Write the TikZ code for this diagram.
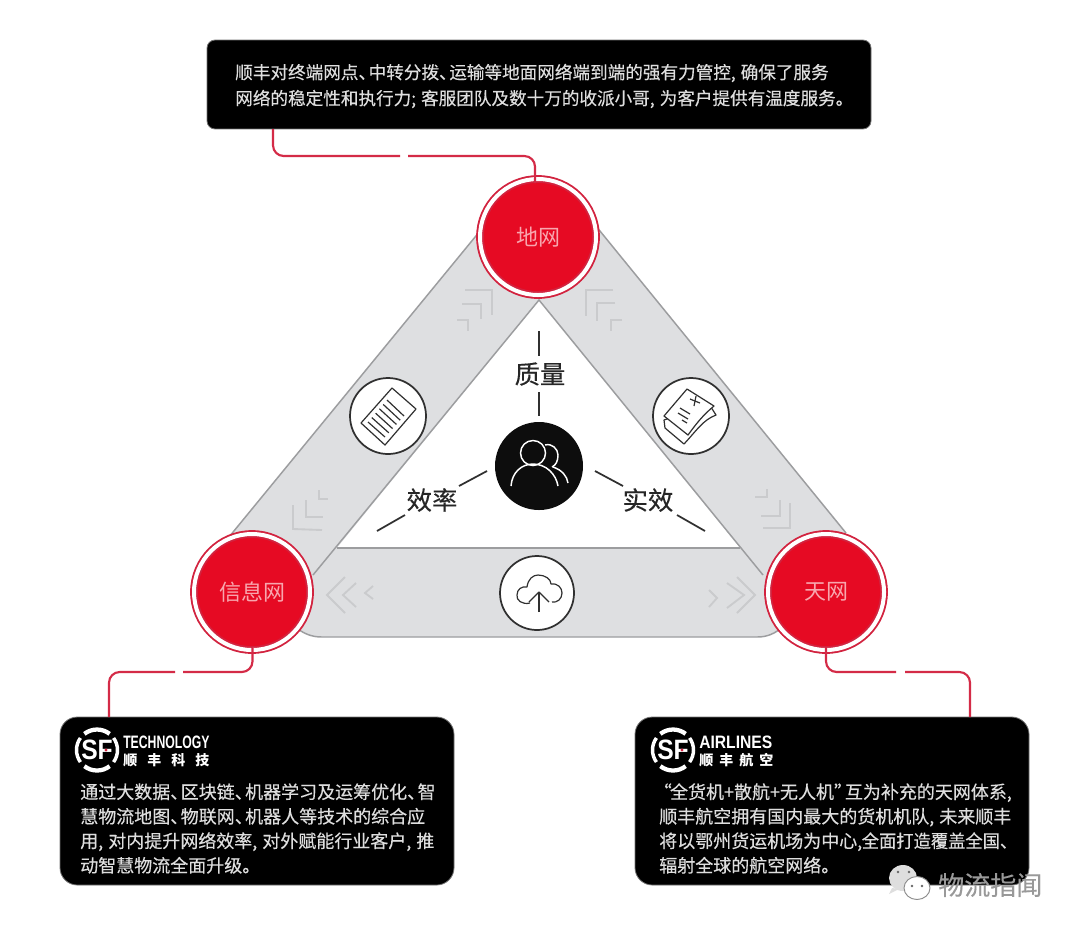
\documentclass[tikz,border=0pt]{standalone}
\usepackage{fontspec}
\usepackage{graphicx}
\setmainfont{Noto Sans CJK SC}
\newfontfamily\latinb{Liberation Sans}
\newfontfamily\heavycn[FakeBold=0.3]{Noto Sans CJK SC}
\definecolor{bandgray}{HTML}{DEDFE1}
\definecolor{edgegray}{HTML}{9C9D9F}
\definecolor{chevgray}{HTML}{CACBCD}
\definecolor{sfred}{HTML}{E60A23}
\definecolor{ringred}{HTML}{D2233F}
\definecolor{linkred}{HTML}{D42B47}
\definecolor{softpink}{HTML}{F8A6AE}
\definecolor{bodygray}{HTML}{DEDEDE}
\definecolor{inkline}{HTML}{303030}
\newcommand\pdun{、\kern-.42em}
\newcommand\pcom{,\kern.28em}
\newcommand\ptight{,\kern.05em}
\newcommand\pfen{;\kern.28em}
\tikzset{
  x=0.75pt,y=-0.75pt,
  blackbox/.style={fill=black,draw=#1,line width=.6pt,inner sep=0,rectangle},
  bodytext/.style={text=bodygray,align=left,inner sep=0,anchor=west,font=\heavycn\fontsize{13.5}{18.4}\selectfont},
  redhub/.style={circle,fill=sfred,draw=ringred,double=white,double distance=3pt,line width=1.4pt,minimum size=87pt,inner sep=0,text=softpink,font=\fontsize{16.5}{18}\selectfont},
  iconring/.style={circle,fill=white,draw=inkline,line width=1.3pt,minimum size=#1,inner sep=0},
  link/.style={draw=linkred,line width=1.6pt,rounded corners=8pt},
  chev/.style={draw=chevgray,line width=1.4pt},
  tick/.style={draw=inkline,line width=1.3pt},
  iconline/.style={draw=inkline,line width=.9pt,line join=round},
  bigword/.style={text=black!85,inner sep=0,font=\heavycn\fontsize{19}{20}\selectfont},
  edge/.style={draw=edgegray,line width=1.1pt},
  sflogo/.pic={
    \foreach \a in {90,270}{\draw[white,line width=3.2pt] (\a-38:20.5) arc[start angle=\a-38,end angle=\a+38,radius=20.5];}
    \foreach \a in {0,180}{\draw[white,line width=2.6pt] (\a-36:20.5) arc[start angle=\a-36,end angle=\a+36,radius=20.5];}
    \node[text=white,inner sep=0,font=\latinb\bfseries\fontsize{21}{21}\selectfont] (-t) at (0,0) {\scalebox{.88}[1]{SF}};
    \fill[ringred] (9,0) circle[radius=1.6];
  },
}
\begin{document}
\begin{tikzpicture}
\fill[white] (0,0) rectangle (1080,933);
\useasboundingbox (0,0) rectangle (1080,933);

% gray bands
\fill[bandgray] (229,537) -- (489,220) -- (591,220) -- (846,533) -- (826,592) -- (785,627)
  .. controls (772,635) and (765,637) .. (757,637) -- (322,637)
  .. controls (312,637) and (303,634) .. (295,627) -- (252,592) -- cycle;
\draw[edge] (229,537) -- (489,220);
\draw[edge] (591,220) -- (846,533);
\draw[edge] (293,625) .. controls (303,634) and (312,637) .. (322,637) -- (757,637)
  .. controls (767,637) and (775,634) .. (785,625);
\fill[white] (539,300) -- (337,548) -- (740,548) -- cycle;
\draw[edge] (313,575) -- (539,300) -- (763,575);
\draw[edge] (337,548) -- (740,548);

% chevrons
\draw[chev] (345,577) -- (327,595) -- (345,613);
\draw[chev] (356,583) -- (343,595) -- (356,607);
\draw[chev] (373,586) -- (365,593) -- (373,599);
\draw[chev] (737,577) -- (755,595) -- (737,613);
\draw[chev] (727,583) -- (744,595) -- (727,608);
\draw[chev] (709,590) -- (717,598) -- (709,607);
\draw[chev] (465,290) -- (492,290) -- (492,315);
\draw[chev] (462,304) -- (481,304) -- (481,319);
\draw[chev] (457,320) -- (468,320) -- (468,331);
\draw[chev] (613,290) -- (586,290) -- (586,316);
\draw[chev] (615,303) -- (597,303) -- (597,321);
\draw[chev] (622,320) -- (611,320) -- (611,331);
\draw[chev] (293,505) -- (293,529) -- (322,530);
\draw[chev] (306,500) -- (306,517) -- (323,517);
\draw[chev] (319,490) -- (319,499) -- (328,499);
\draw[chev] (790,503) -- (790,528) -- (763,528);
\draw[chev] (780,500) -- (780,516) -- (761,516);
\draw[chev] (767,489) -- (767,497) -- (755,497);

% boxes
\node[blackbox=black!55,minimum width=498pt,minimum height=66.7pt,rounded corners=6pt] (topbox) at (539,84.5) {};
\node[blackbox=black!55,minimum width=295.5pt,minimum height=126pt,rounded corners=13pt] (leftbox) at (257,801) {};
\node[blackbox=black!55,minimum width=295.5pt,minimum height=126pt,rounded corners=13pt] (rightbox) at (832,801) {};

% hubs
\node[redhub] (hubtop) at (538,237) {地网};
\node[redhub] (hubleft) at (252,592) {\raisebox{-.7pt}{信息网}};
\node[redhub] (hubright) at (826,592) {\raisebox{-.7pt}{天网}};

% connectors
\coordinate (gapa) at (400,156);
\coordinate (gapb) at (408,156);
\coordinate (topin) at (535,183);
\coordinate (topout) at (273,129);
\draw[link] (topout) |- (gapa);
\draw[link] (gapb) -| (topin);
\coordinate (lefta) at (183,672);
\coordinate (leftb) at (175,672);
\coordinate (leftin) at (252.5,648);
\coordinate (leftout) at (109,717);
\draw[link] (leftin) |- (lefta);
\draw[link] (leftb) -| (leftout);
\coordinate (righta) at (896,672);
\coordinate (rightb) at (905,672);
\coordinate (rightin) at (826,648);
\coordinate (rightout) at (970,717);
\draw[link] (rightin) |- (righta);
\draw[link] (rightb) -| (rightout);

% icon circles
\node[iconring=57pt] (docring) at (388,416) {};
\node[iconring=57pt] (billring) at (691,416) {};
\node[iconring=55.5pt] (cloudring) at (537,593) {};
\node[circle,fill=black!95,minimum size=66pt,inner sep=0] (crew) at (539,466) {};

% document icon
\draw[iconline] (392,388) -- (416,409) -- (385,445) -- (361,423) -- cycle;
\foreach \t in {0,.2,.4,.6,.8,1}{
  \draw[iconline] ({387-19*\t},{400+22*\t}) -- ({404-19*\t},{416+21*\t});
}
% bill icon
\draw[iconline,fill=white] (664,420) -- (665,428) -- (684,444) .. controls (697,430) and (703,420) .. (716,415) -- (709,404) -- cycle;
\draw[iconline,fill=white] (664,416) -- (687,389) -- (714,406) .. controls (703,415) and (696,424) .. (688,435) -- cycle;
\draw[iconline] (680,408) -- (690,414);
\draw[iconline] (678,413) -- (688,419);
\draw[iconline] (682,420) -- (687,423);
\draw[iconline] (690,399) -- (700,403);
\draw[iconline] (696,396) -- (694,406);
% cloud icon
\draw[iconline] (530,603) .. controls (522,605) and (516,600) .. (517,595)
  .. controls (517,589) and (522,586) .. (527,587)
  .. controls (528,579) and (533,575) .. (538,575)
  .. controls (545,575) and (551,579) .. (551,584)
  .. controls (558,583) and (562,588) .. (562,593)
  .. controls (562,599) and (557,603) .. (552,602);
\draw[iconline] (539,612) -- (539,592);
\draw[iconline] (529,602) -- (539,592) -- (549,602);
% people icon
\begin{scope}[line width=1.1pt]
\draw[white] (533,453) circle[radius=12.5];
\draw[white] (545,445) .. controls (552,443) and (558,449) .. (558,455) .. controls (558,461) and (556,465) .. (552,467);
\draw[white] (511,486) .. controls (512,472) and (522,464) .. (533,464) .. controls (546,464) and (556,474) .. (558,486);
\draw[white] (553,467) .. controls (562,470) and (567,476) .. (568,483);
\end{scope}

% spokes
\node[bigword] (quality) at (540,374) {质量};
\node[bigword] (speed) at (432,500) {效率};
\node[bigword] (result) at (648,500) {实效};
\coordinate (q1) at (539,331); \coordinate (q2) at (539,356);
\coordinate (q3) at (539,392); \coordinate (q4) at (539,416);
\draw[tick] (q1) -- (q2);
\draw[tick] (q3) -- (q4);
\coordinate (s1) at (487,471); \coordinate (s2) at (459,486);
\coordinate (s3) at (405,515); \coordinate (s4) at (377,531);
\draw[tick] (s1) -- (s2);
\draw[tick] (s3) -- (s4);
\coordinate (r1) at (595,471); \coordinate (r2) at (623,486);
\coordinate (r3) at (677,515); \coordinate (r4) at (705,531);
\draw[tick] (r1) -- (r2);
\draw[tick] (r3) -- (r4);

% top text
\node[bodytext,font=\heavycn\fontsize{13.2}{19.5}\selectfont] (toptext) at (235,86) {顺丰对终端网点\pdun 中转分拨\pdun 运输等地面网络端到端的强有力管控\pcom 确保了服务\\网络的稳定性和执行力\pfen 客服团队及数十万的收派小哥\pcom 为客户提供有温度服务。};

% left text and logo
\pic (logoa) at (97,750) {sflogo};
\node[text=white,inner sep=0,anchor=west,font=\latinb\bfseries\fontsize{13.5}{14}\selectfont] (techen) at (123,742) {\scalebox{.68}[1]{TECHNOLOGY}};
\node[text=white,inner sep=0,anchor=west,font=\bfseries\fontsize{10.5}{12}\selectfont] (techcn) at (123,760) {顺\kern7.5pt 丰\kern7.5pt 科\kern7.5pt 技};
\node[bodytext] (lefttext) at (80,828.5) {通过大数据\pdun 区块链\pdun 机器学习及运筹优化\pdun 智\\慧物流地图\pdun 物联网\pdun 机器人等技术的综合应\\用\pcom 对内提升网络效率\pcom 对外赋能行业客户\pcom 推\\动智慧物流全面升级。};

% right text and logo
\pic (logob) at (673,750) {sflogo};
\node[text=white,inner sep=0,anchor=west,font=\latinb\bfseries\fontsize{13.5}{14}\selectfont] (airen) at (699,742) {\scalebox{.87}[1]{AIRLINES}};
\node[text=white,inner sep=0,anchor=west,font=\bfseries\fontsize{10.5}{12}\selectfont] (aircn) at (699,760) {顺\kern4.5pt 丰\kern4.5pt 航\kern4.5pt 空};
\node[bodytext] (righttext) at (659,828.5) {\kern-.3em “\kern-.1em 全货机+散航+无人机”\kern-.4em 互为补充的天网体系\pcom\\顺丰航空拥有国内最大的货机机队\pcom 未来顺丰\\将以鄂州货运机场为中心\ptight\kern-.08em\scalebox{.96}[1]{全面打造覆盖全国、}\\辐射全球的航空网络。};

% watermark
\fill[black!13] (903,878) ellipse[x radius=14,y radius=13];
\fill[black!13] (892,888) -- (889,894) -- (899,889) -- cycle;
\fill[black!60] (898,872) circle[radius=1.4];
\fill[black!60] (909,872) circle[radius=1.4];
\draw[black!45,fill=white,line width=.7pt] (917,888) ellipse[x radius=13,y radius=11.5];
\fill[black!60] (912,886) circle[radius=1.4];
\fill[black!60] (922,886) circle[radius=1.4];
\node[text=black!40,inner sep=0,anchor=west,font=\heavycn\fontsize{19.5}{20}\selectfont] (mark) at (938,885) {物流指闻};
\end{tikzpicture}
\end{document}
